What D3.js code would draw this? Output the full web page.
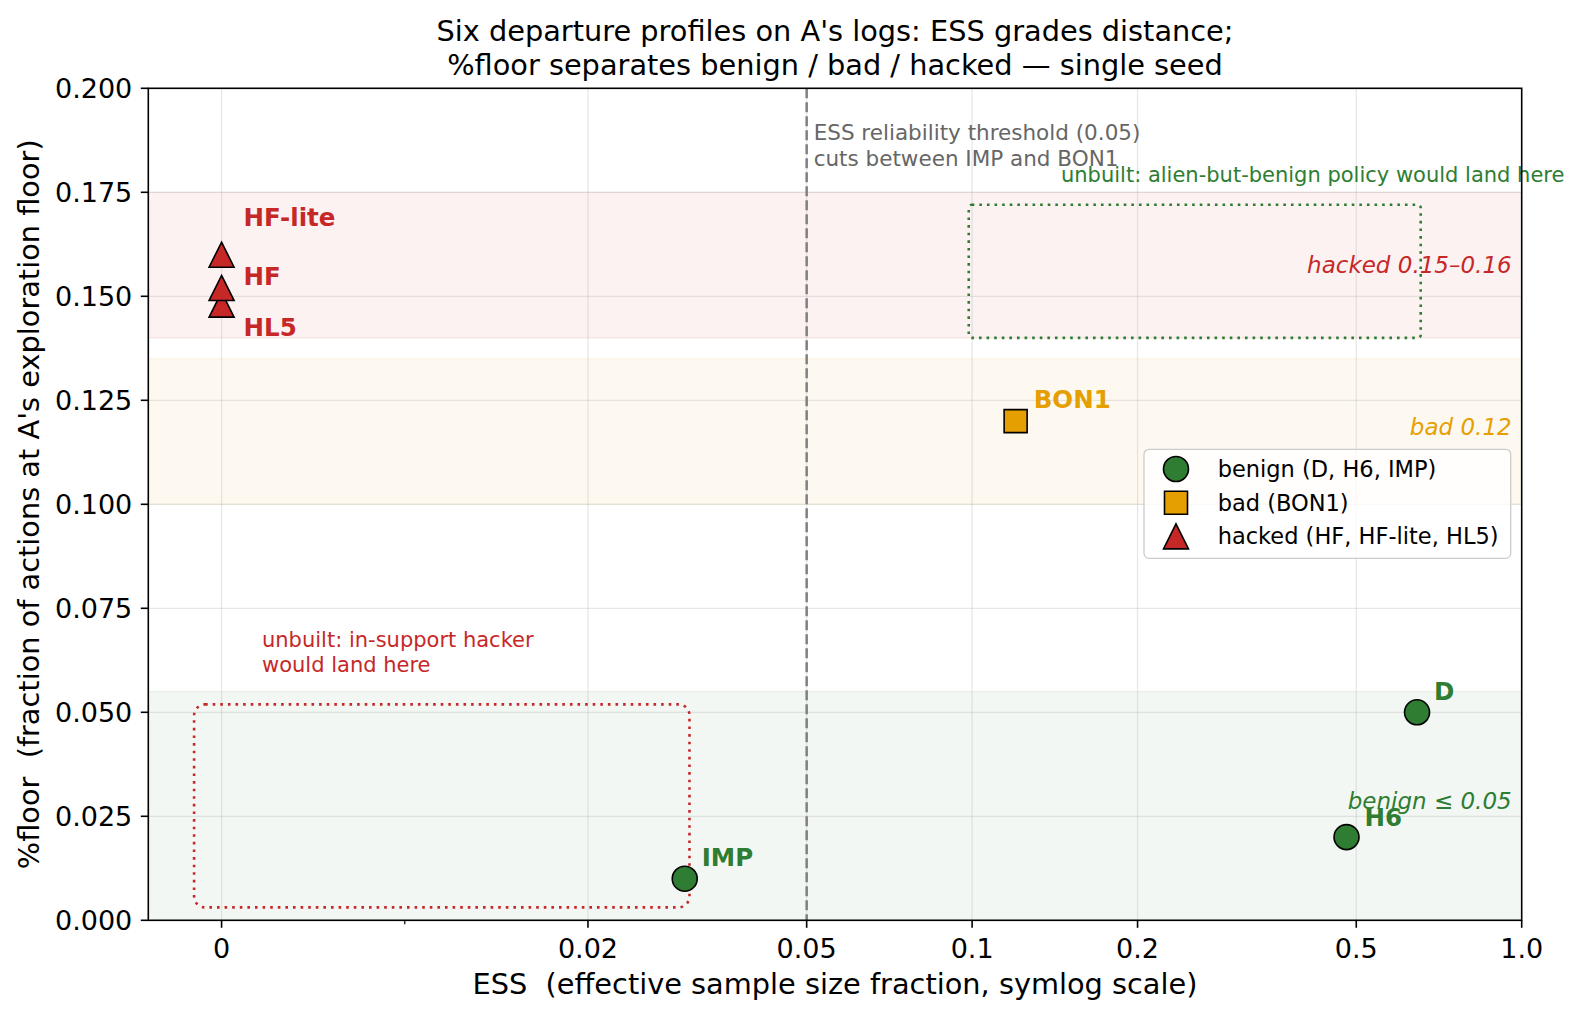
<!DOCTYPE html>
<html>
<head>
<meta charset="utf-8">
<script src="https://cdn.jsdelivr.net/npm/d3@7"></script>
<style>
  body { margin: 0; background: #fff; }
  svg { font-family: "DejaVu Sans", sans-serif; }
  svg text { white-space: pre; }
</style>
</head>
<body>
<svg id="chart" width="1578" height="1017"></svg>
<script>
// ---- data ----
const pointNames = ["D", "H6", "IMP", "BON1", "HF", "HF-lite", "HL5"];
const pointESS   = [0.645, 0.48, 0.030, 0.120, 0, 0, 0];
const pointFloor = [0.050, 0.020, 0.010, 0.120, 0.152, 0.160, 0.148];
const pointClass = ["benign", "benign", "benign", "bad", "hacked", "hacked", "hacked"];
// label offsets in px from the marker (dx to left edge, dy to baseline)
const labelDx = [17, 18, 17, 18, 22, 22, 22];
const labelDy = [-12, -11, -13, -13, -3, -29, 31];

const classNames  = ["benign", "bad", "hacked"];
const classLegend = ["benign (D, H6, IMP)", "bad (BON1)", "hacked (HF, HF-lite, HL5)"];
const classColors = ["#2e7d32", "#e69f00", "#c62828"];
const classBand   = ["#2e7d32", "#e69f00", "#c62828"];

const bandLow    = [0.0, 0.100, 0.140];
const bandHigh   = [0.055, 0.135, 0.175];
const bandLabels = ["benign \u2264 0.05", "bad 0.12", "hacked 0.15\u20130.16"];
const bandLabelY = [0.0267, 0.1167, 0.1557];

const xTicks      = [0, 0.02, 0.05, 0.1, 0.2, 0.5, 1.0];
const xTickLabels = ["0", "0.02", "0.05", "0.1", "0.2", "0.5", "1.0"];
const xMinorTicks = [0.01];
const yTicks      = [0, 0.025, 0.05, 0.075, 0.1, 0.125, 0.15, 0.175, 0.2];

const essThreshold = 0.05;

// "unbuilt" dotted regions: [x0, x1, y0, y1]
const hackerBox = [-0.0015, 0.0306, 0.0031, 0.0519];
const alienBox  = [0.0986, 0.655, 0.140, 0.172];

// ---- scales ----
const linthresh = 0.02, linscale = 0.6;
const linAdj = linscale / (1 - 1 / 10);
function symlog(v) {
  const a = Math.abs(v);
  if (a <= linthresh) return v / linthresh * linAdj;
  return Math.sign(v) * (linAdj + Math.log10(a / linthresh));
}

const plot = { left: 148.3, right: 1521.7, top: 88.3, bottom: 920.3 };

const xLin = d3.scaleLinear()
    .domain([symlog(-0.004), symlog(1.0)])
    .range([plot.left, plot.right]);
const x = (v) => xLin(symlog(v));

const y = d3.scaleLinear()
    .domain([0, 0.2])
    .range([plot.bottom, plot.top]);

const svg = d3.select("#chart");

svg.append("defs").append("clipPath").attr("id", "plotClip")
  .append("rect")
    .attr("x", plot.left).attr("y", plot.top)
    .attr("width", plot.right - plot.left)
    .attr("height", plot.bottom - plot.top);

// ---- bands ----
const bands = svg.append("g").attr("clip-path", "url(#plotClip)");
bands.selectAll("rect")
  .data(classNames)
  .enter().append("rect")
    .attr("x", plot.left)
    .attr("width", plot.right - plot.left)
    .attr("y", (d, i) => y(bandHigh[i]))
    .attr("height", (d, i) => y(bandLow[i]) - y(bandHigh[i]))
    .attr("fill", (d, i) => classBand[i])
    .attr("fill-opacity", 0.06)
    .attr("stroke", (d, i) => classBand[i])
    .attr("stroke-opacity", 0.08)
    .attr("stroke-width", 1.5);

// ---- grid ----
const grid = svg.append("g");
grid.selectAll(".gx")
  .data(xTicks.filter((d) => d < 1))
  .enter().append("line")
    .attr("x1", (d) => x(d)).attr("x2", (d) => x(d))
    .attr("y1", plot.top).attr("y2", plot.bottom)
    .attr("stroke", "#b0b0b0").attr("stroke-opacity", 0.3).attr("stroke-width", 1.3);
grid.selectAll(".gy")
  .data(yTicks.filter((d) => d > 0 && d < 0.2))
  .enter().append("line")
    .attr("x1", plot.left).attr("x2", plot.right)
    .attr("y1", (d) => y(d)).attr("y2", (d) => y(d))
    .attr("stroke", "#b0b0b0").attr("stroke-opacity", 0.3).attr("stroke-width", 1.3);

// ---- threshold line ----
svg.append("line")
    .attr("x1", x(essThreshold)).attr("x2", x(essThreshold))
    .attr("y1", plot.top).attr("y2", plot.bottom)
    .attr("stroke", "#808080")
    .attr("stroke-width", 2.5)
    .attr("stroke-dasharray", "10,4");

svg.append("text")
    .attr("x", x(essThreshold) + 7)
    .attr("y", 140)
    .attr("font-size", 21.5)
    .attr("fill", "#666")
  .selectAll("tspan")
  .data(["ESS reliability threshold (0.05)", "cuts between IMP and BON1"])
  .enter().append("tspan")
    .attr("x", x(essThreshold) + 7)
    .attr("dy", (d, i) => i === 0 ? 0 : 26)
    .text((d) => d);

// ---- dotted "unbuilt" regions ----
function dottedBox(b, color, r) {
  svg.append("rect")
      .attr("x", x(b[0])).attr("y", y(b[3]))
      .attr("width", x(b[1]) - x(b[0]))
      .attr("height", y(b[2]) - y(b[3]))
      .attr("rx", r).attr("ry", r)
      .attr("fill", "none")
      .attr("stroke", color)
      .attr("stroke-width", 2.6)
      .attr("stroke-dasharray", "2.6,5");
}
dottedBox(hackerBox, "#c62828", 11);
dottedBox(alienBox, "#2e7d32", 3);

svg.append("text")
    .attr("font-size", 21)
    .attr("fill", "#c62828")
  .selectAll("tspan")
  .data(["unbuilt: in-support hacker", "would land here"])
  .enter().append("tspan")
    .attr("x", 262)
    .attr("y", (d, i) => 646.5 + i * 25)
    .text((d) => d);

svg.append("text")
    .attr("x", 1061)
    .attr("y", 181.5)
    .attr("font-size", 21)
    .attr("fill", "#2e7d32")
    .text("unbuilt: alien-but-benign policy would land here");

// ---- band labels ----
svg.append("g").selectAll("text")
  .data(bandLabels)
  .enter().append("text")
    .attr("x", plot.right - 10)
    .attr("y", (d, i) => y(bandLabelY[i]))
    .attr("text-anchor", "end")
    .attr("font-size", 23)
    .attr("font-style", "italic")
    .attr("fill", (d, i) => classColors[i])
    .text((d) => d);

// ---- markers ----
const tri = "M0,-12.5L12.5,12.5L-12.5,12.5Z";
const sq = "M-11.5,-11.5H11.5V11.5H-11.5Z";
const circ = d3.arc()({ innerRadius: 0, outerRadius: 12.5, startAngle: 0, endAngle: 2 * Math.PI });
const shapeFor = { benign: circ, bad: sq, hacked: tri };
const colorFor = (c) => classColors[classNames.indexOf(c)];

// draw in this order so triangles stack like the reference (HL5 under HF)
const order = [6, 4, 5, 3, 2, 1, 0];
svg.append("g").selectAll("path")
  .data(order)
  .enter().append("path")
    .attr("d", (i) => shapeFor[pointClass[i]])
    .attr("transform", (i) => `translate(${x(pointESS[i])},${y(pointFloor[i])})`)
    .attr("fill", (i) => colorFor(pointClass[i]))
    .attr("stroke", "#000")
    .attr("stroke-width", 1.6);

svg.append("g").selectAll("text")
  .data(pointNames)
  .enter().append("text")
    .attr("x", (d, i) => x(pointESS[i]) + labelDx[i])
    .attr("y", (d, i) => y(pointFloor[i]) + labelDy[i])
    .attr("font-size", 24.5)
    .attr("font-weight", "bold")
    .attr("fill", (d, i) => colorFor(pointClass[i]))
    .text((d) => d);

// ---- axes ----
const axes = svg.append("g");
axes.append("rect")
    .attr("x", plot.left).attr("y", plot.top)
    .attr("width", plot.right - plot.left)
    .attr("height", plot.bottom - plot.top)
    .attr("fill", "none").attr("stroke", "#000").attr("stroke-width", 1.6);

axes.selectAll(".xt")
  .data(xTicks)
  .enter().append("line")
    .attr("x1", (d) => x(d)).attr("x2", (d) => x(d))
    .attr("y1", plot.bottom).attr("y2", plot.bottom + 7.5)
    .attr("stroke", "#000").attr("stroke-width", 1.6);
axes.selectAll(".xm")
  .data(xMinorTicks)
  .enter().append("line")
    .attr("x1", (d) => x(d)).attr("x2", (d) => x(d))
    .attr("y1", plot.bottom).attr("y2", plot.bottom + 4)
    .attr("stroke", "#000").attr("stroke-width", 1.2);
axes.selectAll(".xl")
  .data(xTicks)
  .enter().append("text")
    .attr("x", (d) => x(d))
    .attr("y", 958)
    .attr("text-anchor", "middle")
    .attr("font-size", 27)
    .text((d, i) => xTickLabels[i]);

axes.selectAll(".yt")
  .data(yTicks)
  .enter().append("line")
    .attr("x1", plot.left - 7.5).attr("x2", plot.left)
    .attr("y1", (d) => y(d)).attr("y2", (d) => y(d))
    .attr("stroke", "#000").attr("stroke-width", 1.6);
axes.selectAll(".yl")
  .data(yTicks)
  .enter().append("text")
    .attr("x", plot.left - 16)
    .attr("y", (d) => y(d) + 9.7)
    .attr("text-anchor", "end")
    .attr("font-size", 27)
    .text((d) => d3.format(".3f")(d));

svg.append("text")
    .attr("x", (plot.left + plot.right) / 2)
    .attr("y", 994)
    .attr("text-anchor", "middle")
    .attr("font-size", 28.8)
    .text("ESS  (effective sample size fraction, symlog scale)");

svg.append("text")
    .attr("transform", `translate(39,${(plot.top + plot.bottom) / 2}) rotate(-90)`)
    .attr("text-anchor", "middle")
    .attr("font-size", 28.8)
    .text("%floor  (fraction of actions at A's exploration floor)");

svg.append("text")
    .attr("text-anchor", "middle")
    .attr("font-size", 28.8)
  .selectAll("tspan")
  .data(["Six departure profiles on A's logs: ESS grades distance;",
         "%floor separates benign / bad / hacked \u2014 single seed"])
  .enter().append("tspan")
    .attr("x", (plot.left + plot.right) / 2)
    .attr("y", (d, i) => 41 + i * 33.5)
    .text((d) => d);

// ---- legend ----
const legend = svg.append("g");
legend.append("rect")
    .attr("x", 1144).attr("y", 449.3)
    .attr("width", 366.7).attr("height", 109)
    .attr("rx", 5).attr("ry", 5)
    .attr("fill", "#fff").attr("fill-opacity", 0.8)
    .attr("stroke", "#ccc").attr("stroke-width", 1.3);
const rows = legend.selectAll("g.row")
  .data(classNames)
  .enter().append("g")
    .attr("transform", (d, i) => `translate(1176,${469 + i * 33.7})`);
rows.append("path")
    .attr("d", (d) => shapeFor[d])
    .attr("fill", (d, i) => classColors[i])
    .attr("stroke", "#000").attr("stroke-width", 1.6);
rows.append("text")
    .attr("x", 41.7)
    .attr("y", 8)
    .attr("font-size", 22.5)
    .text((d, i) => classLegend[i]);
</script>
</body>
</html>
